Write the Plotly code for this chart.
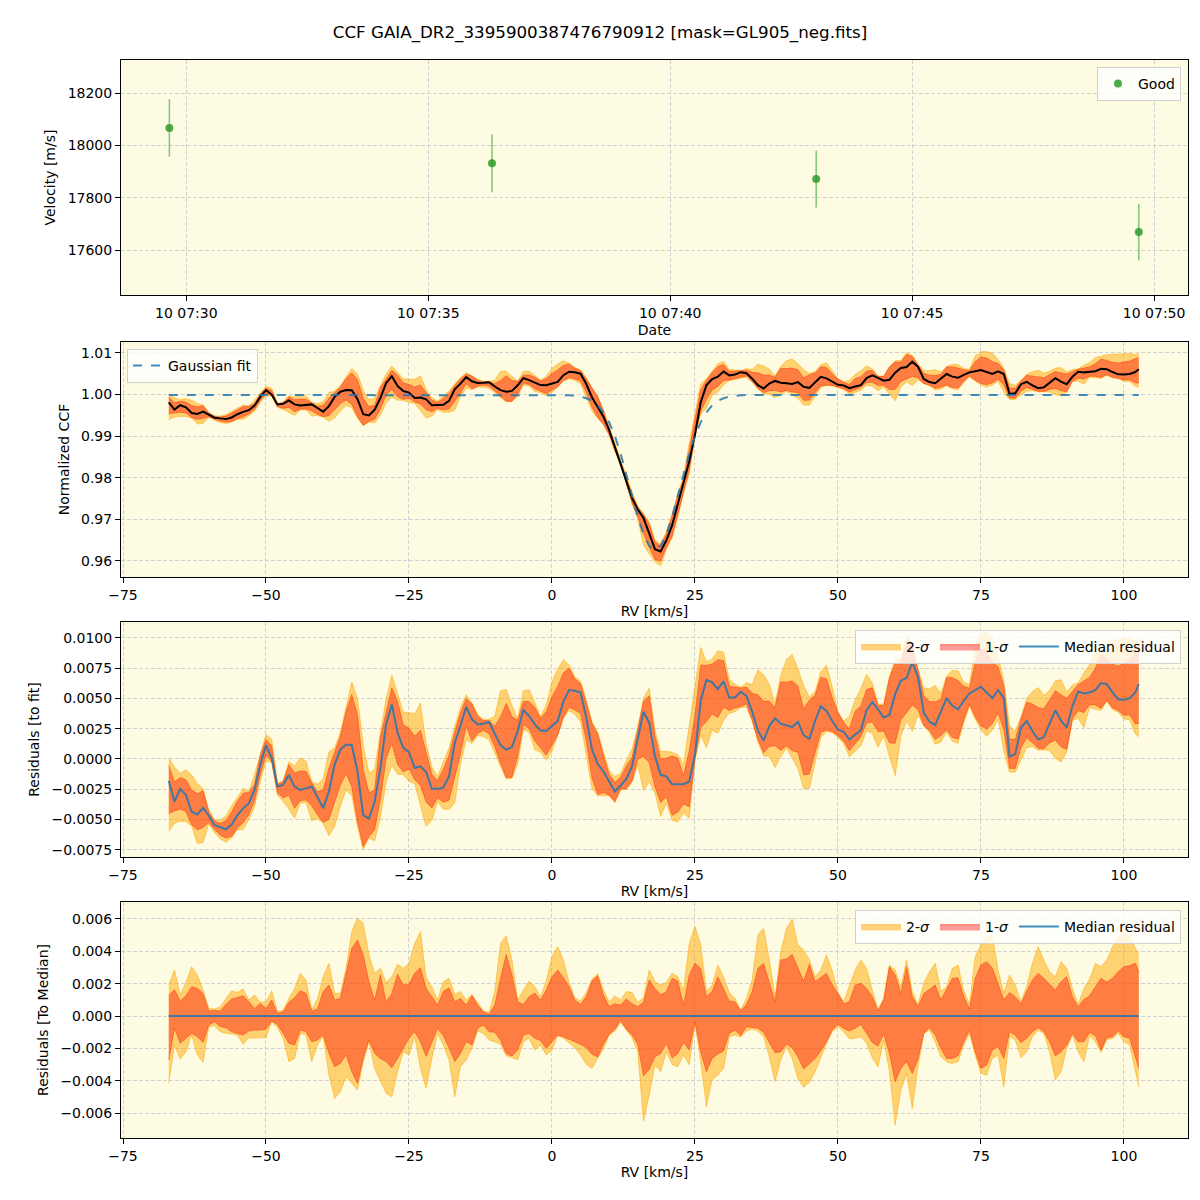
import plotly.graph_objects as go

# ---------------- Panel 1 data ----------------
obs_time = ["2020-01-10 07:29:39", "2020-01-10 07:36:19", "2020-01-10 07:43:01", "2020-01-10 07:49:41"]
velocity = [18067, 17932, 17872, 17670]
velocity_err = [110, 110, 108, 108]

# ---------------- CCF data (RV grid, km/s) ----------------
rv = list(range(-67, 103)) + [102.6]

gauss_fit = [
    0.9999, 0.9999, 0.9999, 0.9999, 0.9999, 0.9999, 0.9999, 0.9999, 0.9999, 0.9999,
    0.9999, 0.9999, 0.9999, 0.9999, 0.9999, 0.9999, 0.9999, 0.9999, 0.9999, 0.9999,
    0.9999, 0.9999, 0.9999, 0.9999, 0.9999, 0.9999, 0.9999, 0.9999, 0.9999, 0.9999,
    0.9999, 0.9999, 0.9999, 0.9999, 0.9999, 0.9999, 0.9999, 0.9999, 0.9999, 0.9999,
    0.9999, 0.9999, 0.9999, 0.9999, 0.9999, 0.9999, 0.9999, 0.9999, 0.9999, 0.9999,
    0.9999, 0.9999, 0.9999, 0.9999, 0.9999, 0.9999, 0.9999, 0.9999, 0.9999, 0.9999,
    0.9999, 0.9999, 0.9999, 0.9999, 0.9999, 0.9999, 0.9999, 0.9999, 0.9999, 0.9999,
    0.9998, 0.9997, 0.9995, 0.9991, 0.9985, 0.9974, 0.9957, 0.9933, 0.9900, 0.9858,
    0.9809, 0.9757, 0.9706, 0.9664, 0.9636, 0.9626, 0.9636, 0.9664, 0.9706, 0.9757,
    0.9809, 0.9858, 0.9900, 0.9933, 0.9957, 0.9974, 0.9985, 0.9991, 0.9995, 0.9997,
    0.9998, 0.9999, 0.9999, 0.9999, 0.9999, 0.9999, 0.9999, 0.9999, 0.9999, 0.9999,
    0.9999, 0.9999, 0.9999, 0.9999, 0.9999, 0.9999, 0.9999, 0.9999, 0.9999, 0.9999,
    0.9999, 0.9999, 0.9999, 0.9999, 0.9999, 0.9999, 0.9999, 0.9999, 0.9999, 0.9999,
    0.9999, 0.9999, 0.9999, 0.9999, 0.9999, 0.9999, 0.9999, 0.9999, 0.9999, 0.9999,
    0.9999, 0.9999, 0.9999, 0.9999, 0.9999, 0.9999, 0.9999, 0.9999, 0.9999, 0.9999,
    0.9999, 0.9999, 0.9999, 0.9999, 0.9999, 0.9999, 0.9999, 0.9999, 0.9999, 0.9999,
    0.9999, 0.9999, 0.9999, 0.9999, 0.9999, 0.9999, 0.9999, 0.9999, 0.9999, 0.9999,
    0.9999,
]

resid_median = [
    -0.00181, -0.00353, -0.00247, -0.00297, -0.00436, -0.00458, -0.00403, -0.00469, -0.00547, -0.00564,
    -0.00581, -0.00542, -0.00464, -0.00408, -0.00367, -0.00256, -0.00047, 0.00114, 0.00008, -0.00228,
    -0.00214, -0.00131, -0.00228, -0.00256, -0.00242, -0.00228, -0.00314, -0.00406, -0.00269, -0.00047,
    0.00078, 0.00119, 0.00114, -0.00103, -0.00464, -0.00492, -0.00353, -0.00075, 0.00286, 0.00450,
    0.00217, 0.00092, 0.00056, -0.00075, -0.00061, -0.00108, -0.00247, -0.00247, -0.00236, -0.00144,
    0.00133, 0.00272, 0.00431, 0.00328, 0.00286, 0.00292, 0.00306, 0.00203, 0.00114, 0.00078,
    0.00097, 0.00231, 0.00403, 0.00356, 0.00286, 0.00236, 0.00231, 0.00272, 0.00314, 0.00475,
    0.00569, 0.00564, 0.00550, 0.00342, 0.00078, -0.00042, -0.00103, -0.00186, -0.00269, -0.00219,
    -0.00164, -0.00061, 0.00175, 0.00390, 0.00300, 0.00022, -0.00131, -0.00144, -0.00208, -0.00208,
    -0.00208, -0.00186, 0.00036, 0.00481, 0.00653, 0.00633, 0.00578, 0.00642, 0.00508, 0.00508,
    0.00556, 0.00522, 0.00392, 0.00236, 0.00153, 0.00272, 0.00336, 0.00292, 0.00281, 0.00264,
    0.00308, 0.00197, 0.00167, 0.00314, 0.00436, 0.00397, 0.00314, 0.00244, 0.00225, 0.00161,
    0.00203, 0.00236, 0.00403, 0.00469, 0.00411, 0.00342, 0.00364, 0.00536, 0.00647, 0.00669,
    0.00800, 0.00675, 0.00383, 0.00308, 0.00281, 0.00392, 0.00503, 0.00439, 0.00411, 0.00481,
    0.00542, 0.00569, 0.00597, 0.00550, 0.00503, 0.00569, 0.00503, 0.00020, 0.00040, 0.00258,
    0.00314, 0.00231, 0.00161, 0.00181, 0.00292, 0.00403, 0.00319, 0.00258, 0.00439, 0.00558,
    0.00542, 0.00550, 0.00569, 0.00628, 0.00619, 0.00550, 0.00494, 0.00489, 0.00503, 0.00550,
    0.00619,
]

# spread of the CCF samples around their median (1-sigma / 2-sigma envelopes)
hi_1sig = [
    0.00130, 0.00163, 0.00093, 0.00126, 0.00181, 0.00171, 0.00140, 0.00031, 0.00035, 0.00031,
    0.00072, 0.00105, 0.00115, 0.00126, 0.00089, 0.00047, 0.00078, 0.00047, 0.00099, 0.00016,
    0.00027, 0.00085, 0.00113, 0.00157, 0.00140, 0.00031, 0.00043, 0.00151, 0.00192, 0.00099,
    0.00109, 0.00274, 0.00419, 0.00470, 0.00377, 0.00212, 0.00099, 0.00254, 0.00089, 0.00140,
    0.00258, 0.00192, 0.00198, 0.00264, 0.00299, 0.00171, 0.00120, 0.00068, 0.00151, 0.00175,
    0.00089, 0.00109, 0.00068, 0.00126, 0.00068, 0.00027, 0.00010, 0.00068, 0.00233, 0.00381,
    0.00254, 0.00089, 0.00072, 0.00120, 0.00142, 0.00099, 0.00161, 0.00243, 0.00285, 0.00237,
    0.00181, 0.00099, 0.00072, 0.00120, 0.00216, 0.00249, 0.00130, 0.00058, 0.00076, 0.00068,
    0.00105, 0.00076, 0.00058, 0.00085, 0.00223, 0.00171, 0.00130, 0.00151, 0.00233, 0.00216,
    0.00070, 0.00254, 0.00326, 0.00295, 0.00120, 0.00151, 0.00243, 0.00171, 0.00093, 0.00089,
    0.00031, 0.00072, 0.00151, 0.00295, 0.00326, 0.00208, 0.00089, 0.00346, 0.00353, 0.00381,
    0.00295, 0.00216, 0.00320, 0.00212, 0.00239, 0.00264, 0.00192, 0.00140, 0.00076, 0.00089,
    0.00192, 0.00202, 0.00171, 0.00120, 0.00031, 0.00100, 0.00305, 0.00254, 0.00140, 0.00305,
    0.00120, 0.00058, 0.00140, 0.00167, 0.00192, 0.00099, 0.00171, 0.00233, 0.00237, 0.00120,
    0.00043, 0.00233, 0.00315, 0.00336, 0.00297, 0.00192, 0.00099, 0.00146, 0.00120, 0.00074,
    0.00155, 0.00223, 0.00264, 0.00233, 0.00196, 0.00161, 0.00212, 0.00243, 0.00120, 0.00058,
    0.00103, 0.00126, 0.00181, 0.00233, 0.00210, 0.00233, 0.00274, 0.00305, 0.00311, 0.00326,
    0.00274,
]

hi_2sig = [
    0.00192, 0.00285, 0.00130, 0.00208, 0.00305, 0.00254, 0.00160, 0.00047, 0.00043, 0.00058,
    0.00109, 0.00155, 0.00146, 0.00167, 0.00099, 0.00130, 0.00085, 0.00089, 0.00155, 0.00027,
    0.00035, 0.00109, 0.00171, 0.00264, 0.00223, 0.00040, 0.00105, 0.00243, 0.00326, 0.00140,
    0.00140, 0.00295, 0.00522, 0.00604, 0.00573, 0.00377, 0.00264, 0.00295, 0.00208, 0.00243,
    0.00320, 0.00295, 0.00326, 0.00449, 0.00522, 0.00239, 0.00181, 0.00099, 0.00212, 0.00233,
    0.00134, 0.00151, 0.00099, 0.00134, 0.00085, 0.00031, 0.00023, 0.00151, 0.00449, 0.00497,
    0.00346, 0.00099, 0.00161, 0.00216, 0.00181, 0.00120, 0.00216, 0.00367, 0.00429, 0.00346,
    0.00208, 0.00113, 0.00093, 0.00146, 0.00229, 0.00262, 0.00161, 0.00089, 0.00124, 0.00099,
    0.00151, 0.00146, 0.00085, 0.00113, 0.00285, 0.00212, 0.00192, 0.00208, 0.00264, 0.00243,
    0.00160, 0.00449, 0.00553, 0.00441, 0.00151, 0.00192, 0.00315, 0.00243, 0.00146, 0.00109,
    0.00037, 0.00109, 0.00223, 0.00501, 0.00542, 0.00346, 0.00120, 0.00398, 0.00542, 0.00600,
    0.00439, 0.00408, 0.00346, 0.00243, 0.00285, 0.00377, 0.00280, 0.00146, 0.00089, 0.00192,
    0.00285, 0.00346, 0.00295, 0.00161, 0.00043, 0.00110, 0.00315, 0.00285, 0.00181, 0.00346,
    0.00151, 0.00072, 0.00202, 0.00274, 0.00326, 0.00151, 0.00181, 0.00295, 0.00315, 0.00155,
    0.00072, 0.00367, 0.00439, 0.00491, 0.00497, 0.00285, 0.00140, 0.00254, 0.00192, 0.00089,
    0.00186, 0.00326, 0.00429, 0.00346, 0.00274, 0.00243, 0.00336, 0.00295, 0.00171, 0.00072,
    0.00171, 0.00229, 0.00326, 0.00305, 0.00346, 0.00429, 0.00491, 0.00511, 0.00491, 0.00419,
    0.00377,
]

lo_1sig = [
    -0.00272, -0.00076, -0.00169, -0.00138, -0.00107, -0.00128, -0.00163, -0.00056, -0.00035, -0.00066,
    -0.00072, -0.00097, -0.00107, -0.00118, -0.00093, -0.00087, -0.00087, -0.00080, -0.00031, -0.00052,
    -0.00107, -0.00169, -0.00179, -0.00087, -0.00097, -0.00159, -0.00148, -0.00118, -0.00231, -0.00313,
    -0.00293, -0.00241, -0.00344, -0.00416, -0.00262, -0.00148, -0.00231, -0.00262, -0.00282, -0.00320,
    -0.00262, -0.00200, -0.00138, -0.00097, -0.00159, -0.00249, -0.00159, -0.00076, -0.00122, -0.00196,
    -0.00282, -0.00231, -0.00159, -0.00179, -0.00076, -0.00056, -0.00097, -0.00101, -0.00148, -0.00231,
    -0.00247, -0.00210, -0.00118, -0.00107, -0.00138, -0.00151, -0.00200, -0.00159, -0.00118, -0.00128,
    -0.00142, -0.00159, -0.00175, -0.00196, -0.00237, -0.00252, -0.00175, -0.00113, -0.00082, -0.00027,
    -0.00082, -0.00118, -0.00175, -0.00370, -0.00330, -0.00252, -0.00231, -0.00169, -0.00258, -0.00231,
    -0.00163, -0.00210, -0.00035, -0.00221, -0.00344, -0.00262, -0.00235, -0.00216, -0.00107, -0.00087,
    -0.00122, -0.00066, -0.00070, -0.00076, -0.00101, -0.00169, -0.00227, -0.00221, -0.00173, -0.00196,
    -0.00252, -0.00328, -0.00293, -0.00262, -0.00216, -0.00159, -0.00087, -0.00052, -0.00076, -0.00093,
    -0.00076, -0.00052, -0.00107, -0.00163, -0.00186, -0.00110, -0.00231, -0.00406, -0.00324, -0.00282,
    -0.00355, -0.00266, -0.00107, -0.00072, -0.00118, -0.00200, -0.00262, -0.00262, -0.00245, -0.00159,
    -0.00087, -0.00221, -0.00324, -0.00303, -0.00210, -0.00190, -0.00262, -0.00097, -0.00118, -0.00165,
    -0.00138, -0.00097, -0.00072, -0.00097, -0.00159, -0.00247, -0.00221, -0.00179, -0.00107, -0.00159,
    -0.00159, -0.00101, -0.00122, -0.00210, -0.00134, -0.00128, -0.00093, -0.00128, -0.00138, -0.00262,
    -0.00324,
]

lo_2sig = [
    -0.00416, -0.00179, -0.00266, -0.00221, -0.00118, -0.00241, -0.00287, -0.00066, -0.00060, -0.00097,
    -0.00107, -0.00110, -0.00118, -0.00175, -0.00134, -0.00138, -0.00134, -0.00134, -0.00035, -0.00072,
    -0.00138, -0.00282, -0.00262, -0.00107, -0.00118, -0.00282, -0.00179, -0.00125, -0.00365, -0.00509,
    -0.00468, -0.00375, -0.00416, -0.00458, -0.00282, -0.00160, -0.00324, -0.00406, -0.00478, -0.00499,
    -0.00344, -0.00221, -0.00241, -0.00128, -0.00324, -0.00447, -0.00262, -0.00107, -0.00179, -0.00272,
    -0.00499, -0.00313, -0.00272, -0.00200, -0.00093, -0.00107, -0.00148, -0.00159, -0.00175, -0.00245,
    -0.00256, -0.00272, -0.00159, -0.00138, -0.00210, -0.00179, -0.00241, -0.00210, -0.00122, -0.00138,
    -0.00169, -0.00196, -0.00241, -0.00299, -0.00324, -0.00262, -0.00200, -0.00118, -0.00093, -0.00039,
    -0.00087, -0.00134, -0.00221, -0.00650, -0.00489, -0.00303, -0.00344, -0.00221, -0.00299, -0.00313,
    -0.00241, -0.00303, -0.00045, -0.00282, -0.00561, -0.00396, -0.00365, -0.00324, -0.00128, -0.00118,
    -0.00130, -0.00093, -0.00080, -0.00093, -0.00128, -0.00252, -0.00406, -0.00272, -0.00190, -0.00262,
    -0.00387, -0.00441, -0.00410, -0.00344, -0.00258, -0.00169, -0.00097, -0.00066, -0.00097, -0.00142,
    -0.00138, -0.00128, -0.00169, -0.00258, -0.00314, -0.00150, -0.00344, -0.00674, -0.00458, -0.00355,
    -0.00571, -0.00313, -0.00110, -0.00087, -0.00159, -0.00252, -0.00283, -0.00293, -0.00282, -0.00179,
    -0.00107, -0.00241, -0.00355, -0.00365, -0.00262, -0.00241, -0.00437, -0.00128, -0.00148, -0.00258,
    -0.00221, -0.00128, -0.00089, -0.00107, -0.00221, -0.00396, -0.00344, -0.00200, -0.00118, -0.00221,
    -0.00283, -0.00122, -0.00159, -0.00225, -0.00145, -0.00140, -0.00107, -0.00159, -0.00179, -0.00344,
    -0.00437,
]

# ---------------- derived series ----------------
ccf_median = [f + r for f, r in zip(gauss_fit, resid_median)]
zero_line = [r - r for r in resid_median]

# ---------------- style ----------------
C2_FILL = "rgba(255,165,0,0.5)"
C2_LINE = "rgba(255,165,0,0.5)"
C1_FILL = "rgba(255,0,0,0.4)"
C1_LINE = "rgba(255,40,0,0.45)"
BLUE = "rgba(31,119,180,0.85)"

fig = go.Figure()


def add_bands(center, xa, ya, legend=None, show=False):
    for lo, hi, fillc, linec, name in [
        (lo_2sig, hi_2sig, C2_FILL, C2_LINE, "2-<i>σ</i>"),
        (lo_1sig, hi_1sig, C1_FILL, C1_LINE, "1-<i>σ</i>"),
    ]:
        fig.add_trace(go.Scatter(
            x=rv, y=[c + o for c, o in zip(center, lo)], mode="lines",
            line=dict(color=linec, width=1), xaxis=xa, yaxis=ya,
            showlegend=False, hoverinfo="skip"))
        kw = dict(legend=legend) if legend else {}
        fig.add_trace(go.Scatter(
            x=rv, y=[c + o for c, o in zip(center, hi)], mode="lines",
            line=dict(color=linec, width=1), fill="tonexty", fillcolor=fillc,
            xaxis=xa, yaxis=ya, name=name, showlegend=show, hoverinfo="skip", **kw))


# Panel 1
fig.add_trace(go.Scatter(
    x=obs_time, y=velocity, mode="markers", name="Good",
    marker=dict(color="rgba(34,150,34,0.8)", size=8),
    error_y=dict(type="data", array=velocity_err, color="rgba(44,160,44,0.6)", thickness=1.5, width=0),
    xaxis="x", yaxis="y", legend="legend"))

# Panel 2
add_bands(ccf_median, "x2", "y2")
fig.add_trace(go.Scatter(x=rv, y=ccf_median, mode="lines", line=dict(color="black", width=2),
                         xaxis="x2", yaxis="y2", showlegend=False))
fig.add_trace(go.Scatter(x=rv, y=gauss_fit, mode="lines", name="Gaussian fit",
                         line=dict(color=BLUE, width=2, dash="dash"),
                         xaxis="x2", yaxis="y2", legend="legend2"))

# Panel 3
add_bands(resid_median, "x3", "y3", legend="legend3", show=True)
fig.add_trace(go.Scatter(x=rv, y=resid_median, mode="lines", name="Median residual",
                         line=dict(color=BLUE, width=2), xaxis="x3", yaxis="y3", legend="legend3"))

# Panel 4
add_bands(zero_line, "x4", "y4", legend="legend4", show=True)
fig.add_trace(go.Scatter(x=rv, y=zero_line, mode="lines", name="Median residual",
                         line=dict(color=BLUE, width=2), xaxis="x4", yaxis="y4", legend="legend4"))

axis_common = dict(showline=True, linecolor="black", linewidth=1, mirror=True,
                   ticks="outside", ticklen=5, tickcolor="black", showgrid=True,
                   gridcolor="#d2d2d2", griddash="4px,2px", gridwidth=1, zeroline=False,
                   automargin=False,
                   tickfont=dict(size=14), title_font=dict(size=14))

XD = [121 / 1200, 1188 / 1200]


def ydom(top, bottom):
    return [1 - bottom / 1200, 1 - top / 1200]


legend_common = dict(bgcolor="rgba(255,255,255,0.8)", bordercolor="#d0d0d0", borderwidth=1,
                     font=dict(size=14), traceorder="normal")

fig.update_layout(
    width=1200, height=1200, margin=dict(l=0, r=0, t=0, b=0),
    paper_bgcolor="white", plot_bgcolor="#fdfce2",
    font=dict(family="DejaVu Sans", size=14, color="black"),
    title=dict(text="CCF GAIA_DR2_3395900387476790912 [mask=GL905_neg.fits]",
               x=0.5, xanchor="center", y=1 - 32 / 1200, yanchor="middle", font=dict(size=16.7)),
    xaxis=dict(domain=XD, anchor="y", type="date",
               range=["2020-01-10 07:28:39", "2020-01-10 07:50:42"],
               tick0="2020-01-10 07:30:00", dtick=300000, tickformat="%d %H:%M",
               title=dict(text="Date", standoff=5), **axis_common),
    yaxis=dict(domain=ydom(60, 295), anchor="x", range=[17430, 18326], dtick=200,
               tickformat="d", title=dict(text="Velocity [m/s]", standoff=8), **axis_common),
    xaxis2=dict(domain=XD, anchor="y2", range=[-75.35, 111.2], dtick=25, tick0=0,
                title=dict(text="RV [km/s]", standoff=4), **axis_common),
    yaxis2=dict(domain=ydom(342, 577), anchor="x2", range=[0.95613, 1.01262], dtick=0.01,
                tickformat=".2f", title=dict(text="Normalized CCF", standoff=8), **axis_common),
    xaxis3=dict(domain=XD, anchor="y3", range=[-75.35, 111.2], dtick=25, tick0=0,
                title=dict(text="RV [km/s]", standoff=4), **axis_common),
    yaxis3=dict(domain=ydom(622, 857), anchor="x3", range=[-0.0081, 0.01132], dtick=0.0025,
                tick0=0, tickformat=".4f", title=dict(text="Residuals [to fit]", standoff=8),
                **axis_common),
    xaxis4=dict(domain=XD, anchor="y4", range=[-75.35, 111.2], dtick=25, tick0=0,
                title=dict(text="RV [km/s]", standoff=4), **axis_common),
    yaxis4=dict(domain=ydom(902, 1138), anchor="x4", range=[-0.00754, 0.00705], dtick=0.002,
                tick0=0, tickformat=".3f", title=dict(text="Residuals [To Median]", standoff=8),
                **axis_common),
    legend=dict(x=1181 / 1200, y=1 - 67 / 1200, xanchor="right", yanchor="top", **legend_common),
    legend2=dict(x=127 / 1200, y=1 - 349 / 1200, xanchor="left", yanchor="top", **legend_common),
    legend3=dict(x=1181 / 1200, y=1 - 630 / 1200, xanchor="right", yanchor="top",
                 orientation="h", itemwidth=40, **legend_common),
    legend4=dict(x=1181 / 1200, y=1 - 910 / 1200, xanchor="right", yanchor="top",
                 orientation="h", itemwidth=40, **legend_common),
)

fig.write_html("out.html")
